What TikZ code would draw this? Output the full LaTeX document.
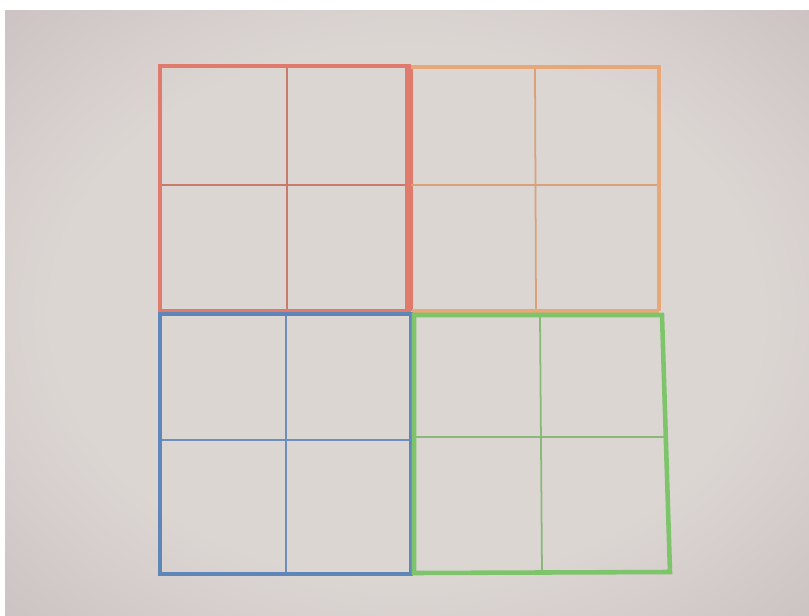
\documentclass[tikz,border=0pt]{standalone}
\usetikzlibrary{shadings}
\definecolor{pA}{HTML}{DCD6D3}
\definecolor{pB}{HTML}{C9C0BF}
\definecolor{pC}{HTML}{8A7E7E}
\definecolor{redc}{HTML}{E07A6C}
\definecolor{redi}{HTML}{C97A6C}
\definecolor{orac}{HTML}{E9A676}
\definecolor{orai}{HTML}{D9A07A}
\definecolor{bluc}{HTML}{5E86B8}
\definecolor{blui}{HTML}{6E8FBC}
\definecolor{grec}{HTML}{7DC46B}
\definecolor{grei}{HTML}{8AB87A}
\pgfdeclareradialshading{paper}{\pgfpoint{0bp}{0bp}}{color(0bp)=(pA); color(22bp)=(pA); color(38bp)=(pB); color(70bp)=(pC)}
\tikzset{
  outer/.style={line width=2.6pt, line join=miter},
  inner/.style={line width=1pt},
}
\begin{document}
\begin{tikzpicture}[x=0.02cm,y=-0.02cm]
\useasboundingbox (0,0) rectangle (809,616);
\fill[white] (0,0) rectangle (809,616);
\shade[shading=paper] (5,10) rectangle (809,616);
% red block
\draw[redi, inner] (287,66) -- (287,311);
\draw[redi, inner] (160,185) -- (409,185);
\draw[redc, outer] (160,66) rectangle (409,311);
\draw[redc, line width=4pt] (409,66) -- (409,311);
% orange block
\draw[orai, inner] (535,67) -- (536,311);
\draw[orai, inner] (411,185) -- (659,185);
\draw[orac, line width=2pt] (411,67) -- (659,67) -- (659,311);
\draw[orac, line width=2.6pt] (412,311) -- (659,311);
% blue block
\draw[blui, inner] (286,315) -- (286,574);
\draw[blui, inner] (160,440) -- (411,440);
\draw[bluc, outer] (160,314) rectangle (411,574);
% green block
\draw[grei, inner] (540,316) -- (542,572);
\draw[grei, inner] (415,437) -- (666,437);
\draw[grec, outer] (414,315) -- (662,315) -- (670,572) -- (414,573) -- cycle;
\end{tikzpicture}
\end{document}
